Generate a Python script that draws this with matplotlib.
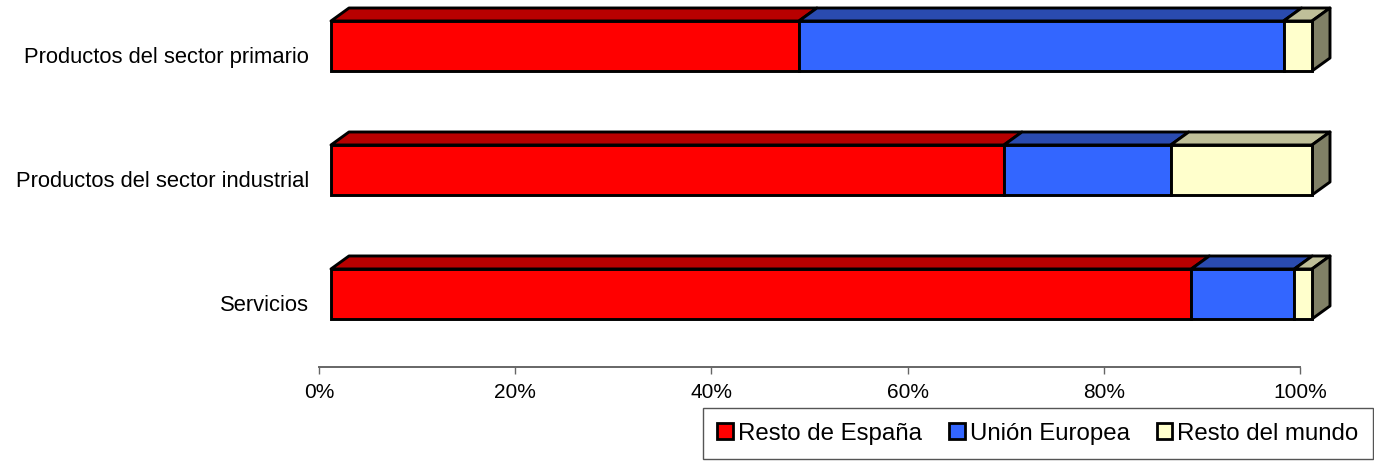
import matplotlib
matplotlib.use('Agg')
import matplotlib.pyplot as plt
from matplotlib.patches import Polygon, Patch

plt.rcParams['font.family'] = ['Liberation Sans', 'DejaVu Sans']

categorias = ['Productos del sector primario', 'Productos del sector industrial', 'Servicios']
resto_espana = [47.7, 68.6, 87.7]
union_europea = [49.4, 17.0, 10.5]
resto_mundo = [2.9, 14.4, 1.8]
ticks = [0, 20, 40, 60, 80, 100]

series = [
    ('Resto de España', resto_espana, '#FF0000', '#B80000', None),
    ('Unión Europea', union_europea, '#3366FF', '#2A4BB0', None),
    ('Resto del mundo', resto_mundo, '#FFFFCC', '#BFBF99', '#808066'),
]

W, H = 1374, 462
fig = plt.figure(figsize=(W / 100, H / 100), dpi=100)
ax = fig.add_axes([319 / W, (H - 367) / H, 981 / W, 367 / H])
ax.set_xlim(0, 100)
ax.set_ylim(2.589, -0.371)
ax.patch.set_alpha(0)

# profundidad del efecto 3D, en unidades de datos
inicio = 12 / 9.81
dx = 18 / 9.81
dy = 13 / 124
alto = 50 / 124
lw = 2.1

for i in range(len(categorias)):
    izq = inicio
    for nombre, valores, color, oscuro, lateral in series:
        v = valores[i]
        arriba = i - alto / 2
        abajo = i + alto / 2
        # cara superior
        ax.add_patch(Polygon([(izq, arriba), (izq + dx, arriba - dy), (izq + v + dx, arriba - dy), (izq + v, arriba)],
                             facecolor=oscuro, edgecolor='black', lw=lw, joinstyle='round', clip_on=False))
        ax.barh(i, v, height=alto, left=izq, color=color, edgecolor='black', lw=lw, clip_on=False, zorder=2)
        # cara lateral solo al final de la barra
        if lateral is not None:
            der = izq + v
            ax.add_patch(Polygon([(der, arriba), (der + dx, arriba - dy), (der + dx, abajo - dy), (der, abajo)],
                                 facecolor=lateral, edgecolor='black', lw=lw, joinstyle='round', clip_on=False))
        izq += v

for s in ['top', 'left', 'right']:
    ax.spines[s].set_visible(False)
ax.spines['bottom'].set_color('#666666')
ax.spines['bottom'].set_linewidth(1.4)

ax.set_xticks(ticks)
ax.set_xticklabels([f'{t}%' for t in ticks], fontsize=15)
ax.tick_params(axis='x', direction='out', length=5, width=1, color='#666666', pad=6.7)
# las etiquetas quedan un poco por debajo del centro de la barra
ax.set_yticks([i + 9 / 124 for i in range(len(categorias))])
ax.set_yticklabels(categorias, fontsize=15.8)
ax.tick_params(axis='y', length=0, pad=7)

handles = [Patch(facecolor=c, edgecolor='black', lw=2, label=n) for n, _, c, _, _ in series]
leg = fig.legend(handles=handles, ncol=3, loc='lower left', bbox_to_anchor=(703 / W, (H - 459) / H),
                 fontsize=17.3, fancybox=False, edgecolor='#555555', framealpha=1, borderpad=0.6,
                 handlelength=0.65, handleheight=0.65, handletextpad=0.22, columnspacing=1.11, borderaxespad=0)
leg.get_frame().set_linewidth(1)

fig.savefig('out.png', dpi=100)
